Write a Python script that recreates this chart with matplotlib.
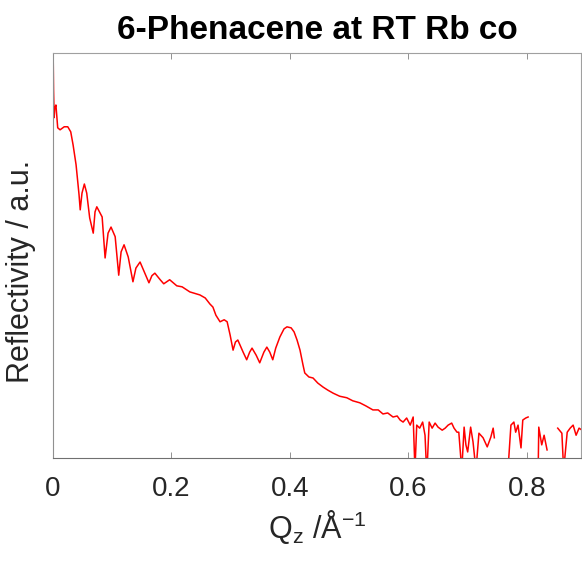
import numpy as np
import matplotlib
matplotlib.use("Agg")
import matplotlib.pyplot as plt

# Qz in 1/Angstrom, reflectivity given as log10 (arbitrary units); nan = negative / missing points
qz = [0.000, 0.001, 0.002, 0.003, 0.005, 0.008, 0.012, 0.019, 0.025, 0.030,
      0.034, 0.039, 0.044, 0.046, 0.049, 0.053, 0.057, 0.062, 0.068, 0.071,
      0.074, 0.083, 0.088, 0.093, 0.098, 0.105, 0.111, 0.115, 0.120, 0.127,
      0.135, 0.140, 0.147, 0.155, 0.162, 0.167, 0.172, 0.181, 0.187, 0.197,
      0.209, 0.218, 0.231, 0.248, 0.257, 0.265, 0.270, 0.275, 0.282, 0.289,
      0.294, 0.299, 0.304, 0.308, 0.312, 0.321, 0.327, 0.332, 0.336, 0.343,
      0.349, 0.356, 0.361, 0.366, 0.371, 0.376, 0.383, 0.390, 0.395, 0.402,
      0.407, 0.412, 0.417, 0.422, 0.425, 0.432, 0.439, 0.447, 0.456, 0.464,
      0.473, 0.484, 0.496, 0.506, 0.518, 0.528, 0.540, 0.549, 0.557, 0.565,
      0.574, 0.581, 0.586, 0.591, 0.597, 0.603, 0.608, 0.611, 0.614, 0.619,
      0.624, 0.628, 0.631, 0.635, 0.640, 0.645, 0.650, 0.657, 0.662, 0.667,
      0.673, 0.677, 0.682, 0.685, 0.690, 0.694, 0.697, 0.700, 0.705, 0.709,
      0.714, 0.719, 0.726, 0.733, 0.739, 0.743, 0.745, 0.756, 0.768, 0.773,
      0.778, 0.781, 0.785, 0.790, 0.793, 0.798, 0.802, 0.810, 0.819, 0.820,
      0.825, 0.829, 0.834, 0.843, 0.852, 0.859, 0.862, 0.868, 0.873, 0.878,
      0.883, 0.888, 0.893]

log_r = [0.30, -0.73, -1.28, -1.09, -1.03, -1.48, -1.52, -1.46, -1.46, -1.56,
         -1.82, -2.21, -2.80, -3.10, -2.77, -2.59, -2.77, -3.26, -3.56, -3.14,
         -3.04, -3.24, -4.05, -3.56, -3.44, -3.63, -4.39, -3.93, -3.79, -4.03,
         -4.52, -4.25, -4.13, -4.35, -4.54, -4.40, -4.35, -4.48, -4.56, -4.48,
         -4.60, -4.62, -4.72, -4.78, -4.84, -4.96, -5.02, -5.18, -5.31, -5.27,
         -5.31, -5.57, -5.87, -5.71, -5.67, -5.91, -6.06, -5.91, -5.83, -5.97,
         -6.12, -5.91, -5.81, -5.91, -6.06, -5.83, -5.61, -5.45, -5.41, -5.43,
         -5.51, -5.67, -5.87, -6.16, -6.32, -6.40, -6.42, -6.52, -6.60, -6.66,
         -6.72, -6.78, -6.81, -6.87, -6.91, -6.97, -7.05, -7.05, -7.13, -7.11,
         -7.19, -7.17, -7.25, -7.29, -7.21, -7.35, -7.19, -8.24, -7.35, -7.41,
         -7.29, -7.55, -8.34, -7.29, -7.41, -7.31, -7.39, -7.45, -7.41, -7.35,
         -7.31, -7.41, -7.49, -7.49, -8.24, -7.39, -7.74, -7.88, -7.39, -7.68,
         -8.24, -7.51, -7.60, -7.78, -7.59, -7.41, -7.60, np.nan, -8.24, -7.35,
         -7.29, -7.49, -7.35, -7.80, -7.25, -7.21, -7.19, np.nan, -8.24, -7.39,
         -7.74, -7.55, -7.84, np.nan, -7.41, -7.51, -8.24, -7.49, -7.41, -7.35,
         -7.55, -7.41, -7.45]

refl = 10.0 ** np.array(log_r)

plt.rcParams['font.family'] = ['Liberation Sans', 'DejaVu Sans']
plt.rcParams['mathtext.fontset'] = 'custom'
plt.rcParams['mathtext.rm'] = 'Liberation Sans'

fig = plt.figure(figsize=(5.82, 5.62), dpi=100)
ax = fig.add_axes([0.091, 0.185, 0.907, 0.721])
ax.plot(qz, refl, color='red', lw=1.1)
ax.set_yscale('log')
ax.set_xlim(0, 0.891)
ax.set_ylim(1e-8, 1)
ax.set_xticks([0, 0.2, 0.4, 0.6, 0.8])
ax.set_xticklabels(['0', '0.2', '0.4', '0.6', '0.8'])
ax.set_yticks([])
ax.yaxis.set_minor_locator(matplotlib.ticker.NullLocator())

ax.tick_params(axis='x', direction='in', length=4, width=0.6, color='#808080',
               top=True, labelsize=20, labelcolor='#262626', pad=13)
for s in ax.spines.values():
    s.set_color('#a0a0a0')
    s.set_linewidth(0.8)
ax.spines['bottom'].set_color('#707070')
ax.spines['left'].set_color('#909090')

ax.set_xlabel(r'Q$_\mathregular{z}$ /Å$^\mathregular{-1}$', fontsize=22, color='#262626', labelpad=4)
ax.set_ylabel('Reflectivity / a.u.', fontsize=22, color='#262626')
ax.yaxis.set_label_coords(-0.033, 0.46)
ax.set_title('6-Phenacene at RT Rb co', fontsize=24, fontweight='bold', pad=10)

fig.savefig('out.png', dpi=100)
